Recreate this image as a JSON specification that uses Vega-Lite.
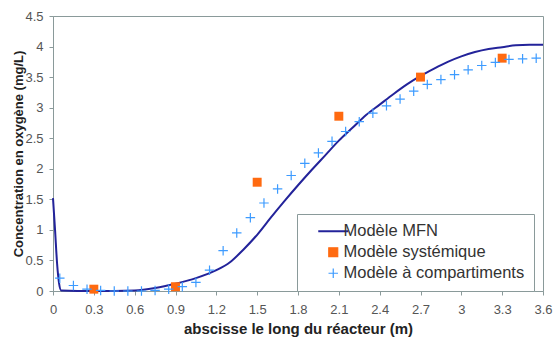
{
  "$schema": "https://vega.github.io/schema/vega-lite/v6.json",
  "autosize": {"type": "none"},
  "width": 490,
  "height": 275,
  "padding": {"left": 53, "top": 16, "right": 10, "bottom": 47},
  "background": "white",
  "config": {
    "font": "Liberation Sans",
    "view": {"stroke": "#8a9a9a", "strokeWidth": 1},
    "axis": {"grid": false, "domainColor": "#8a9a9a", "tickColor": "#8a9a9a", "labelColor": "#555", "labelFontSize": 13, "titleFontSize": 13, "titleFontWeight": "bold", "titleColor": "#222", "tickSize": 4, "labelFont": "Liberation Sans", "titleFont": "Liberation Sans"}
  },
  "datasets": {
    "mfn": [
      {"x": 0, "y": 1.52, "series": "Modèle MFN"},
      {"x": 0.015, "y": 1.0, "series": "Modèle MFN"},
      {"x": 0.03, "y": 0.45, "series": "Modèle MFN"},
      {"x": 0.045, "y": 0.12, "series": "Modèle MFN"},
      {"x": 0.06, "y": 0.01, "series": "Modèle MFN"},
      {"x": 0.3, "y": 0.0, "series": "Modèle MFN"},
      {"x": 0.6, "y": 0.01, "series": "Modèle MFN"},
      {"x": 0.75, "y": 0.05, "series": "Modèle MFN"},
      {"x": 0.9, "y": 0.12, "series": "Modèle MFN"},
      {"x": 1.05, "y": 0.21, "series": "Modèle MFN"},
      {"x": 1.2, "y": 0.34, "series": "Modèle MFN"},
      {"x": 1.3, "y": 0.47, "series": "Modèle MFN"},
      {"x": 1.4, "y": 0.68, "series": "Modèle MFN"},
      {"x": 1.5, "y": 0.92, "series": "Modèle MFN"},
      {"x": 1.6, "y": 1.2, "series": "Modèle MFN"},
      {"x": 1.7, "y": 1.47, "series": "Modèle MFN"},
      {"x": 1.8, "y": 1.73, "series": "Modèle MFN"},
      {"x": 1.9, "y": 1.98, "series": "Modèle MFN"},
      {"x": 2.0, "y": 2.22, "series": "Modèle MFN"},
      {"x": 2.1, "y": 2.46, "series": "Modèle MFN"},
      {"x": 2.2, "y": 2.67, "series": "Modèle MFN"},
      {"x": 2.3, "y": 2.88, "series": "Modèle MFN"},
      {"x": 2.4, "y": 3.05, "series": "Modèle MFN"},
      {"x": 2.5, "y": 3.22, "series": "Modèle MFN"},
      {"x": 2.6, "y": 3.38, "series": "Modèle MFN"},
      {"x": 2.7, "y": 3.52, "series": "Modèle MFN"},
      {"x": 2.8, "y": 3.64, "series": "Modèle MFN"},
      {"x": 2.9, "y": 3.75, "series": "Modèle MFN"},
      {"x": 3.0, "y": 3.84, "series": "Modèle MFN"},
      {"x": 3.1, "y": 3.91, "series": "Modèle MFN"},
      {"x": 3.2, "y": 3.96, "series": "Modèle MFN"},
      {"x": 3.3, "y": 3.99, "series": "Modèle MFN"},
      {"x": 3.4, "y": 4.02, "series": "Modèle MFN"},
      {"x": 3.5, "y": 4.03, "series": "Modèle MFN"},
      {"x": 3.6, "y": 4.03, "series": "Modèle MFN"}
    ],
    "sys": [
      {"x": 0.3, "y": 0.03, "series": "Modèle systémique"},
      {"x": 0.9, "y": 0.07, "series": "Modèle systémique"},
      {"x": 1.5, "y": 1.78, "series": "Modèle systémique"},
      {"x": 2.1, "y": 2.86, "series": "Modèle systémique"},
      {"x": 2.7, "y": 3.5, "series": "Modèle systémique"},
      {"x": 3.3, "y": 3.81, "series": "Modèle systémique"}
    ],
    "comp": [
      {"x": 0.05, "y": 0.21, "series": "Modèle à compartiments"},
      {"x": 0.15, "y": 0.09, "series": "Modèle à compartiments"},
      {"x": 0.25, "y": 0.03, "series": "Modèle à compartiments"},
      {"x": 0.35, "y": 0.01, "series": "Modèle à compartiments"},
      {"x": 0.45, "y": 0.0, "series": "Modèle à compartiments"},
      {"x": 0.55, "y": 0.0, "series": "Modèle à compartiments"},
      {"x": 0.65, "y": 0.0, "series": "Modèle à compartiments"},
      {"x": 0.75, "y": 0.01, "series": "Modèle à compartiments"},
      {"x": 0.85, "y": 0.03, "series": "Modèle à compartiments"},
      {"x": 0.95, "y": 0.07, "series": "Modèle à compartiments"},
      {"x": 1.05, "y": 0.14, "series": "Modèle à compartiments"},
      {"x": 1.15, "y": 0.34, "series": "Modèle à compartiments"},
      {"x": 1.25, "y": 0.66, "series": "Modèle à compartiments"},
      {"x": 1.35, "y": 0.95, "series": "Modèle à compartiments"},
      {"x": 1.45, "y": 1.2, "series": "Modèle à compartiments"},
      {"x": 1.55, "y": 1.44, "series": "Modèle à compartiments"},
      {"x": 1.65, "y": 1.67, "series": "Modèle à compartiments"},
      {"x": 1.75, "y": 1.89, "series": "Modèle à compartiments"},
      {"x": 1.85, "y": 2.09, "series": "Modèle à compartiments"},
      {"x": 1.95, "y": 2.26, "series": "Modèle à compartiments"},
      {"x": 2.05, "y": 2.45, "series": "Modèle à compartiments"},
      {"x": 2.15, "y": 2.61, "series": "Modèle à compartiments"},
      {"x": 2.25, "y": 2.77, "series": "Modèle à compartiments"},
      {"x": 2.35, "y": 2.91, "series": "Modèle à compartiments"},
      {"x": 2.45, "y": 3.03, "series": "Modèle à compartiments"},
      {"x": 2.55, "y": 3.14, "series": "Modèle à compartiments"},
      {"x": 2.65, "y": 3.27, "series": "Modèle à compartiments"},
      {"x": 2.75, "y": 3.38, "series": "Modèle à compartiments"},
      {"x": 2.85, "y": 3.46, "series": "Modèle à compartiments"},
      {"x": 2.95, "y": 3.54, "series": "Modèle à compartiments"},
      {"x": 3.05, "y": 3.62, "series": "Modèle à compartiments"},
      {"x": 3.15, "y": 3.69, "series": "Modèle à compartiments"},
      {"x": 3.25, "y": 3.74, "series": "Modèle à compartiments"},
      {"x": 3.35, "y": 3.79, "series": "Modèle à compartiments"},
      {"x": 3.45, "y": 3.8, "series": "Modèle à compartiments"},
      {"x": 3.55, "y": 3.81, "series": "Modèle à compartiments"}
    ]
  },
  "encoding": {
    "x": {"field": "x", "type": "quantitative", "scale": {"domain": [0, 3.6], "nice": false, "zero": false},
      "axis": {"values": [0, 0.3, 0.6, 0.9, 1.2, 1.5, 1.8, 2.1, 2.4, 2.7, 3, 3.3, 3.6], "format": "~g", "labelPadding": 8, "title": "abscisse le long du réacteur (m)", "titleFontSize": 15, "titlePadding": 5, "labelFlush": false}},
    "y": {"field": "y", "type": "quantitative", "scale": {"domain": [0, 4.5], "nice": false},
      "axis": {"values": [0, 0.5, 1, 1.5, 2, 2.5, 3, 3.5, 4, 4.5], "format": "~g", "labelPadding": 6, "title": "Concentration en oxygène (mg/L)", "titlePadding": -1, "labelFlush": false}},
    "color": {"field": "series", "type": "nominal",
      "scale": {"domain": ["Modèle MFN", "Modèle systémique", "Modèle à compartiments"], "range": ["#23239a", "#ff6a10", "#3d9bff"]},
      "legend": {"title": null, "orient": "none", "legendX": 244, "legendY": 198, "padding": 9, "strokeColor": "#8a9a9a", "fillColor": "white", "symbolSize": 900, "symbolType": "stroke", "symbolOffset": 19, "labelFontSize": 16.5, "labelLimit": 400, "labelColor": "#333", "rowPadding": 4, "labelOffset": 2,
        "encode": {"symbols": {"update": {
          "shape": {"signal": "datum.value === 'Modèle MFN' ? 'stroke' : (datum.value === 'Modèle systémique' ? 'square' : 'M-1,0H1M0,-1V1')"},
          "size": {"signal": "datum.value === 'Modèle MFN' ? 900 : (datum.value === 'Modèle systémique' ? 80 : 90)"},
          "fill": {"signal": "datum.value === 'Modèle systémique' ? '#ff6a10' : 'transparent'"},
          "stroke": {"signal": "datum.value === 'Modèle MFN' ? '#23239a' : (datum.value === 'Modèle systémique' ? 'transparent' : '#3d9bff')"},
          "strokeWidth": {"signal": "datum.value === 'Modèle MFN' ? 2 : 1.2"},
          "opacity": {"value": 1}
        }}}}
    }
  },
  "layer": [
    {"data": {"name": "mfn"}, "mark": {"type": "line", "strokeWidth": 2, "interpolate": "monotone"}},
    {"data": {"name": "sys"}, "mark": {"type": "point", "shape": "square", "filled": true, "size": 80, "opacity": 1}},
    {"data": {"name": "comp"}, "mark": {"type": "point", "shape": "M-1,0H1M0,-1V1", "filled": false, "size": 90, "strokeWidth": 1.2, "opacity": 1}}
  ]
}
